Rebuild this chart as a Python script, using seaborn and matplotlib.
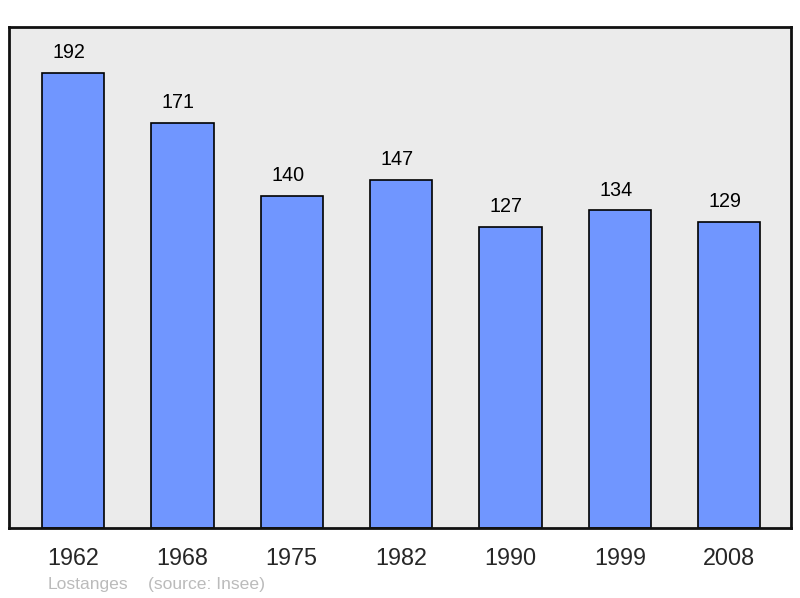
import numpy as np
import pandas as pd
import matplotlib.pyplot as plt
import seaborn as sns

years = ['1962', '1968', '1975', '1982', '1990', '1999', '2008']
population = [192, 171, 140, 147, 127, 134, 129]

df = pd.DataFrame({'year': years, 'population': population})

sns.set_style('white')
plt.rcParams['font.family'] = ['Liberation Sans', 'DejaVu Sans']

fig = plt.figure(figsize=(8, 5.98), dpi=100)
ax = fig.add_axes([9 / 800, 1 - 528 / 598, 782 / 800, 501 / 598])
ax.set_facecolor('#ebebeb')

sns.barplot(data=df, x='year', y='population', color='#7096ff', saturation=1,
            width=0.57, edgecolor='black', linewidth=1.2, ax=ax)

# value labels sit a little left of bar centre, as in the original
for i, v in enumerate(population):
    ax.text(i - 0.037, v + 8.6, str(v), ha='center', va='center', fontsize=14.2, color='black')

ax.set_xlim(-0.585, 6.565)
ax.set_ylim(0, 211.4)
ax.set_yticks([])
ax.set_xlabel('')
ax.set_ylabel('')
ax.tick_params(axis='x', length=0, labelsize=16.8, pad=14)
for s in ax.spines.values():
    s.set_linewidth(2)
    s.set_color('#111111')

fig.text(48 / 800, 1 - 584 / 598, 'Lostanges', fontsize=12.6, color='#bbbbbb', va='center')
fig.text(148 / 800, 1 - 584 / 598, '(source: Insee)', fontsize=12.6, color='#bbbbbb', va='center')

fig.savefig('out.png', dpi=100)
